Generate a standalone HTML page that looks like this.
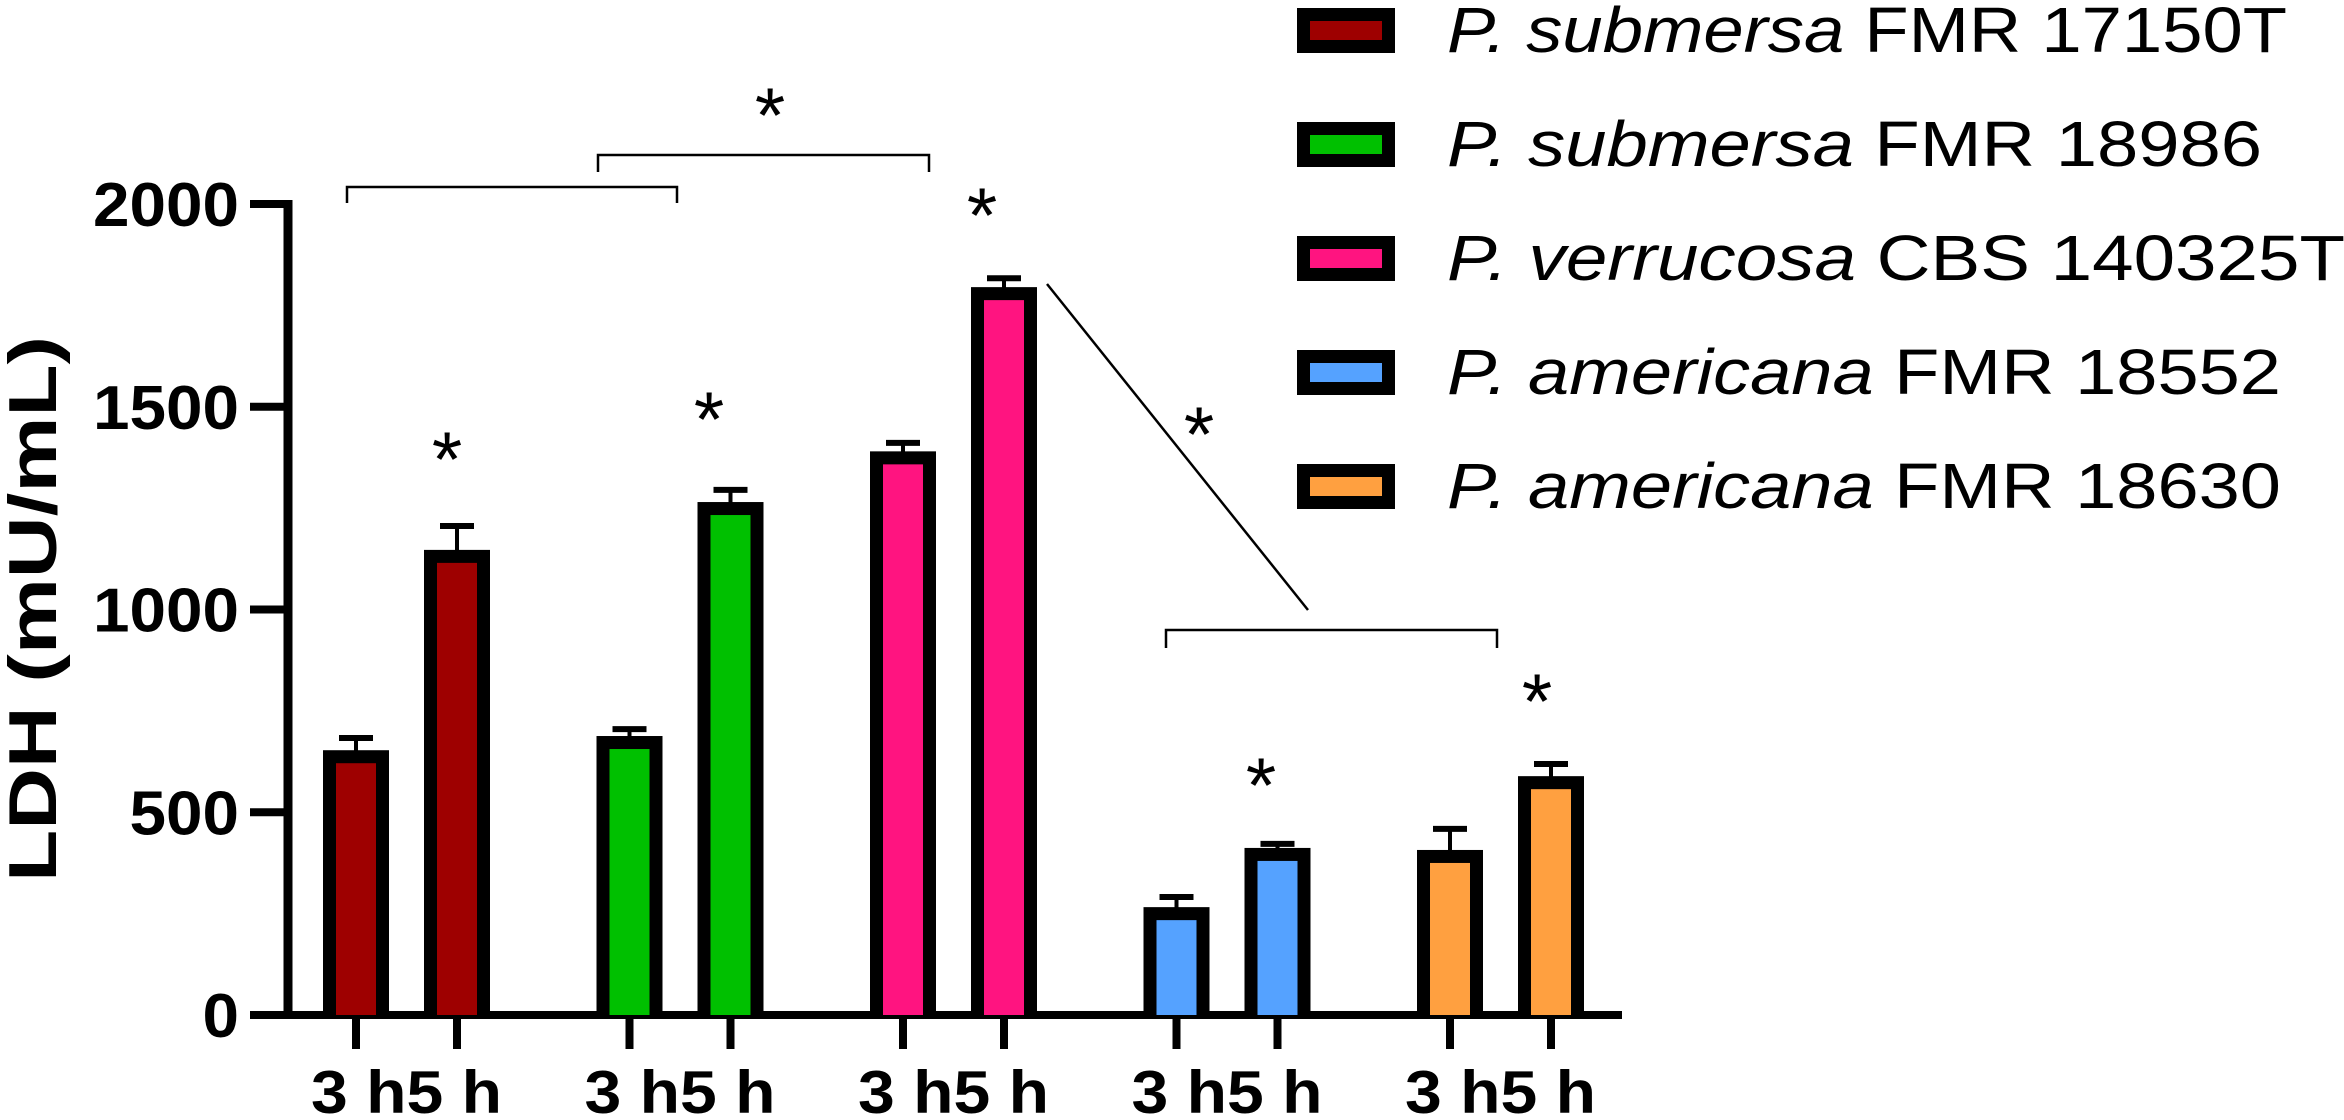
<!DOCTYPE html>
<html><head><meta charset="utf-8"><style>
html,body{margin:0;padding:0;background:#fff;}
svg{display:block;font-family:"Liberation Sans",Arial,sans-serif;}
</style></head><body>
<svg id="chart" width="2344" height="1120" viewBox="0 0 2344 1120" xmlns="http://www.w3.org/2000/svg"></svg>
<script>
const strains = ["P. submersa|FMR 17150T","P. submersa|FMR 18986","P. verrucosa|CBS 140325T","P. americana|FMR 18552","P. americana|FMR 18630"];
const timeLabels = ["3 h","5 h"];
const values3h = [653, 688, 1390, 266, 407];
const values5h = [1147, 1265, 1795, 412, 589];
const err3h = [683, 705, 1411, 291, 459];
const err5h = [1206, 1295, 1817, 422, 619];
const colors = ["#9E0000","#00C000","#FF1480","#55A2FF","#FFA040"];
const yTicks = [0, 500, 1000, 1500, 2000];

const NS = "http://www.w3.org/2000/svg";
const svg = document.getElementById("chart");
function mk(tag, attrs, parent){ const e=document.createElementNS(NS,tag); for(const k in attrs) e.setAttribute(k,attrs[k]); (parent||svg).appendChild(e); return e; }
const y0 = 1015, pxPer = 0.4055;
function yScale(v){ return y0 - v*pxPer; }
function xScale(g, t){ return 356 + g*273.5 + t*101; }

// axes
let ax = mk("line",{x1:288,y1:yScale(2000)-4,x2:288,y2:y0+4,stroke:"#000","stroke-width":9});


let xa = mk("line",{x1:250,y1:y0,x2:1622,y2:y0,stroke:"#000","stroke-width":8});


yTicks.forEach(v=>{
  const y=yScale(v);
  const t=mk("line",{x1:250,y1:y,x2:290,y2:y,stroke:"#000","stroke-width":8});
  
  
  const s=String(v);
  const l=mk("text",{x:239,y:y+22,"text-anchor":"end","font-size":62,"font-weight":"bold",textLength:s.length*36.5,lengthAdjust:"spacingAndGlyphs"});
  l.textContent=s;
  
  
});
const yt=mk("text",{x:0,y:0,transform:"translate(56,609) rotate(-90)","text-anchor":"middle","font-size":68,"font-weight":"bold",textLength:546,lengthAdjust:"spacingAndGlyphs"});
yt.textContent="LDH (mU/mL)";



// bars
const vals=[values3h,values5h], errs=[err3h,err5h];
for(let g=0; g<strains.length; g++){
  for(let t=0;t<2;t++){
    const cx=xScale(g,t), top=yScale(vals[t][g]), w=66, b=13;
    const eb=mk("line",{x1:cx,y1:yScale(errs[t][g]),x2:cx,y2:top+2,stroke:"#000","stroke-width":4});
    
    
    const cap=mk("line",{x1:cx-17,y1:yScale(errs[t][g]),x2:cx+17,y2:yScale(errs[t][g]),stroke:"#000","stroke-width":6});
    
    
    const o=mk("rect",{x:cx-w/2,y:top,width:w,height:y0-top,fill:"#000"});
    
    
    const i=mk("rect",{x:cx-w/2+b,y:top+b,width:w-2*b,height:Math.max(0,y0-top-b),fill:colors[g]});
    
    
    const tk=mk("line",{x1:cx,y1:y0,x2:cx,y2:1049,stroke:"#000","stroke-width":8});
    
    
  }
  const lbl=mk("text",{x:(xScale(g,0)+xScale(g,1))/2,y:1113,"text-anchor":"middle","font-size":60,"font-weight":"bold",textLength:191,lengthAdjust:"spacingAndGlyphs"});
  lbl.textContent=timeLabels[0]+timeLabels[1];
  
  
}

// significance annotations
function star(x,cy){ const s=mk("text",{x:x,y:cy+45,"text-anchor":"middle","font-size":78}); s.textContent="*";
  
   }
function bracket(x1,x2,y,d){ const p=mk("path",{d:`M${x1},${y+d} L${x1},${y} L${x2},${y} L${x2},${y+d}`,fill:"none",stroke:"#000","stroke-width":2.5});
  
   }
bracket(347,677,187,16);
bracket(598,929,155,17);
bracket(1166,1497,630,18);
const dl=mk("line",{x1:1047,y1:284,x2:1308,y2:610,stroke:"#000","stroke-width":2.5});


star(770,97); star(447,441); star(709,401); star(982,197); star(1199,416); star(1261,767); star(1537,683);

// legend
const legendWidths=[840,815,898,834,834];
strains.forEach((s,g)=>{
  const cy=30+g*114;
  const o=mk("rect",{x:1297,y:cy-22,width:98,height:45,fill:"#000"});
  
  
  const i=mk("rect",{x:1310,y:cy-9,width:72,height:19,fill:colors[g]});
  
  
  const parts=s.split("|");
  const t=mk("text",{x:1447,y:cy+22,"font-size":64,textLength:legendWidths[g],lengthAdjust:"spacingAndGlyphs"});
  
  
  const a=mk("tspan",{"font-style":"italic"},t); a.textContent=parts[0]+" ";
  const b=mk("tspan",{},t); b.textContent=parts[1];
});
</script>
</body></html>
